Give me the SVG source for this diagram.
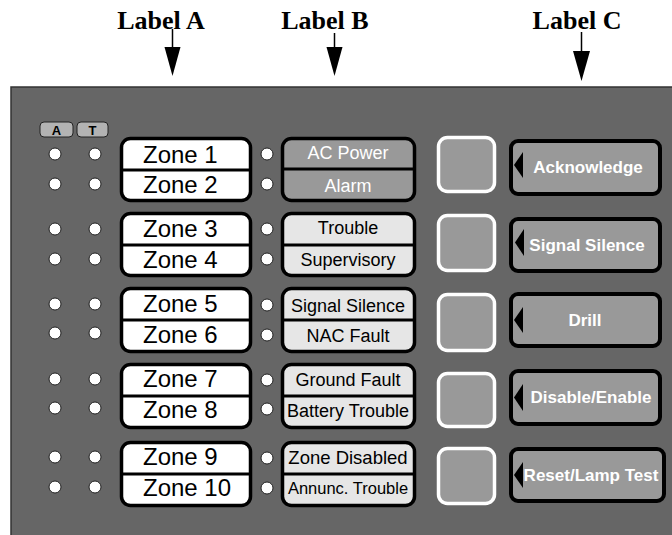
<svg xmlns="http://www.w3.org/2000/svg" width="672" height="535" viewBox="0 0 672 535">
<style>
.lbl{font-family:"Liberation Serif","Times New Roman",serif;font-weight:bold;font-size:26px;fill:#000;text-anchor:middle}
.zone{fill:#fff;stroke:#000;stroke-width:3.5}
.div{stroke:#000;stroke-width:3}
.zt{font-family:"Liberation Sans",Arial,sans-serif;font-size:24px;fill:#000}
.st{fill:#e6e6e6;stroke:#000;stroke-width:3.5}
.st1{fill:#999;stroke:#000;stroke-width:3.5}
.stt{font-family:"Liberation Sans",Arial,sans-serif;font-size:18px;fill:#000;text-anchor:middle}
.stw{font-family:"Liberation Sans",Arial,sans-serif;font-size:18px;fill:#fff;text-anchor:middle}
.led{fill:#fff;stroke:#222;stroke-width:1}
.sq{fill:#999;stroke:#fff;stroke-width:3.5}
.btn{fill:#999;stroke:#000;stroke-width:4}
.bt{font-family:"Liberation Sans",Arial,sans-serif;font-size:17px;font-weight:bold;fill:#fff;text-anchor:middle}
.badge{fill:#b3b3b3;stroke:#222;stroke-width:1}
.badt{font-family:"Liberation Sans",Arial,sans-serif;font-size:13px;font-weight:bold;fill:#000;text-anchor:middle}
</style>
<rect width="672" height="535" fill="#fff"/>
<rect id="panel" x="11" y="87" width="700" height="500" fill="#666" stroke="#333" stroke-width="1.5"/>

<g id="labels">
<text class="lbl" x="161" y="29">Label A</text>
<text class="lbl" x="325" y="29">Label B</text>
<text class="lbl" x="577" y="29">Label C</text>
</g>

<g id="connectors" stroke="#000" stroke-width="1.5" fill="#000">
<line x1="172.5" y1="29" x2="172.5" y2="48"/>
<polygon points="164.5,47 180.5,47 172.5,76" stroke="none"/>
<line x1="334.5" y1="33" x2="334.5" y2="48"/>
<polygon points="326.5,47 342.5,47 334.5,76" stroke="none"/>
<line x1="581.5" y1="32" x2="581.5" y2="52"/>
<polygon points="573,51 590,51 581.5,81" stroke="none"/>
</g>

<g id="badges">
<rect class="badge" x="40" y="122" width="33" height="15" rx="4"/>
<text class="badt" x="56.5" y="134.5">A</text>
<rect class="badge" x="77" y="122" width="31" height="15" rx="4"/>
<text class="badt" x="92.5" y="134.5">T</text>
</g>

<g id="leds">
<circle class="led" cx="55" cy="154" r="6"/><circle class="led" cx="95" cy="154" r="6"/><circle class="led" cx="267" cy="154" r="6"/>
<circle class="led" cx="55" cy="184" r="6"/><circle class="led" cx="95" cy="184" r="6"/><circle class="led" cx="267" cy="184" r="6"/>
<circle class="led" cx="55" cy="229" r="6"/><circle class="led" cx="95" cy="229" r="6"/><circle class="led" cx="267" cy="229" r="6"/>
<circle class="led" cx="55" cy="259" r="6"/><circle class="led" cx="95" cy="259" r="6"/><circle class="led" cx="267" cy="259" r="6"/>
<circle class="led" cx="55" cy="304" r="6"/><circle class="led" cx="95" cy="304" r="6"/><circle class="led" cx="267" cy="305" r="6"/>
<circle class="led" cx="55" cy="333" r="6"/><circle class="led" cx="95" cy="333" r="6"/><circle class="led" cx="267" cy="335" r="6"/>
<circle class="led" cx="55" cy="379" r="6"/><circle class="led" cx="95" cy="379" r="6"/><circle class="led" cx="267" cy="380" r="6"/>
<circle class="led" cx="55" cy="408" r="6"/><circle class="led" cx="95" cy="408" r="6"/><circle class="led" cx="267" cy="409" r="6"/>
<circle class="led" cx="55" cy="457" r="6"/><circle class="led" cx="95" cy="457" r="6"/><circle class="led" cx="267" cy="458" r="6"/>
<circle class="led" cx="55" cy="487" r="6"/><circle class="led" cx="95" cy="487" r="6"/><circle class="led" cx="267" cy="488" r="6"/>
</g>

<g id="zones-1-2">
<rect class="zone" x="121.5" y="138.5" width="129" height="62" rx="9"/>
<line class="div" x1="121.5" y1="170" x2="250.5" y2="170"/>
<text class="zt" x="143" y="163">Zone 1</text>
<text class="zt" x="143" y="193">Zone 2</text>
</g>
<g id="zones-3-4">
<rect class="zone" x="121.5" y="213.5" width="129" height="62" rx="9"/>
<line class="div" x1="121.5" y1="245" x2="250.5" y2="245"/>
<text class="zt" x="143" y="237">Zone 3</text>
<text class="zt" x="143" y="268">Zone 4</text>
</g>
<g id="zones-5-6">
<rect class="zone" x="121.5" y="288.5" width="129" height="63" rx="9"/>
<line class="div" x1="121.5" y1="320" x2="250.5" y2="320"/>
<text class="zt" x="143" y="312">Zone 5</text>
<text class="zt" x="143" y="343">Zone 6</text>
</g>
<g id="zones-7-8">
<rect class="zone" x="121.5" y="364.5" width="129" height="63" rx="9"/>
<line class="div" x1="121.5" y1="396" x2="250.5" y2="396"/>
<text class="zt" x="143" y="387">Zone 7</text>
<text class="zt" x="143" y="418">Zone 8</text>
</g>
<g id="zones-9-10">
<rect class="zone" x="121.5" y="442.5" width="129" height="63" rx="9"/>
<line class="div" x1="121.5" y1="474" x2="250.5" y2="474"/>
<text class="zt" x="143" y="465">Zone 9</text>
<text class="zt" x="143" y="496">Zone 10</text>
</g>

<g id="status-1">
<rect class="st1" x="282.5" y="138.5" width="132" height="62" rx="9"/>
<line class="div" x1="282.5" y1="169" x2="414.5" y2="169"/>
<text class="stw" x="348" y="159">AC Power</text>
<text class="stw" x="348" y="192">Alarm</text>
</g>
<g id="status-2">
<rect class="st" x="282.5" y="213.5" width="132" height="62" rx="9"/>
<line class="div" x1="282.5" y1="245" x2="414.5" y2="245"/>
<text class="stt" x="348" y="234">Trouble</text>
<text class="stt" x="348" y="266">Supervisory</text>
</g>
<g id="status-3">
<rect class="st" x="282.5" y="288.5" width="132" height="63" rx="9"/>
<line class="div" x1="282.5" y1="320" x2="414.5" y2="320"/>
<text class="stt" x="348" y="312">Signal Silence</text>
<text class="stt" x="348" y="342">NAC Fault</text>
</g>
<g id="status-4">
<rect class="st" x="282.5" y="364.5" width="132" height="63" rx="9"/>
<line class="div" x1="282.5" y1="396" x2="414.5" y2="396"/>
<text class="stt" x="348" y="386">Ground Fault</text>
<text class="stt" x="348" y="417">Battery Trouble</text>
</g>
<g id="status-5">
<rect class="st" x="282.5" y="442.5" width="132" height="63" rx="9"/>
<line class="div" x1="282.5" y1="474" x2="414.5" y2="474"/>
<text class="stt" x="348" y="464" style="font-size:18.5px">Zone Disabled</text>
<text class="stt" x="348" y="494" style="font-size:16.5px">Annunc. Trouble</text>
</g>

<g id="btn-acknowledge">
<rect class="sq" x="438.5" y="137.5" width="56" height="54" rx="9"/>
<rect class="btn" x="511" y="141" width="149" height="53" rx="7"/>
<polygon points="514,165 523,152 523,178" fill="#000"/>
<text class="bt" x="588" y="173">Acknowledge</text>
</g>
<g id="btn-signal-silence">
<rect class="sq" x="438.5" y="215.5" width="56" height="55" rx="9"/>
<rect class="btn" x="511" y="219" width="149" height="52" rx="7"/>
<polygon points="515,242.5 524,229 524,256" fill="#000"/>
<text class="bt" x="587" y="251">Signal Silence</text>
</g>
<g id="btn-drill">
<rect class="sq" x="438.5" y="294.5" width="56" height="56" rx="9"/>
<rect class="btn" x="511" y="294" width="149" height="52" rx="7"/>
<polygon points="514,320 523,307 523,333" fill="#000"/>
<text class="bt" x="585" y="326">Drill</text>
</g>
<g id="btn-disable-enable">
<rect class="sq" x="438.5" y="373.5" width="56" height="53" rx="9"/>
<rect class="btn" x="511" y="371" width="149" height="53" rx="7"/>
<polygon points="514,397.5 523,384 523,411" fill="#000"/>
<text class="bt" x="591" y="403">Disable/Enable</text>
</g>
<g id="btn-reset">
<rect class="sq" x="438.5" y="448.5" width="56" height="55" rx="9"/>
<rect class="btn" x="511" y="449" width="153" height="52" rx="7"/>
<polygon points="514,475 523,462 523,488" fill="#000"/>
<text class="bt" x="591" y="481">Reset/Lamp Test</text>
</g>
</svg>
